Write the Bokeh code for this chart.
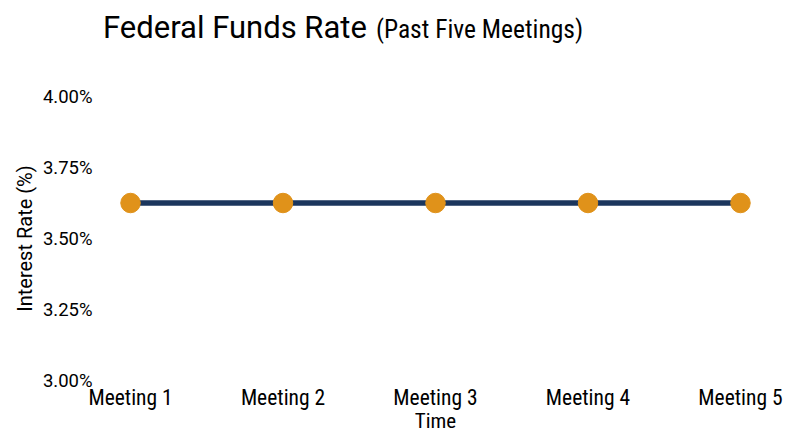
from bokeh.plotting import figure
from bokeh.models import FixedTicker, PrintfTickFormatter, Range1d, ColumnDataSource, Div
from bokeh.layouts import column
from bokeh.embed import file_html
from bokeh.resources import INLINE

meetings = ["Meeting 1", "Meeting 2", "Meeting 3", "Meeting 4", "Meeting 5"]
positions = [1, 2, 3, 4, 5]
rates = [3.625, 3.625, 3.625, 3.625, 3.625]
y_ticks = [3.0, 3.25, 3.5, 3.75, 4.0]

NAVY = "#1b365d"
ORANGE = "#e0921a"
FONT = "Roboto"
NARROW = "Roboto Condensed"

title = Div(text=(
    '<div style="padding-left:103px; padding-top:10px; white-space:nowrap; line-height:36px; color:black;">'
    '<span style="font-family:Roboto; font-size:31px;">Federal Funds Rate</span>'
    '<span style="font-family:\'Roboto Condensed\', Roboto; font-size:25.5px; margin-left:9px;">(Past Five Meetings)</span>'
    '</div>'), width=800, height=60, margin=0)

p = figure(width=800, height=387, output_backend="svg", toolbar_location=None,
           x_range=Range1d(0.79, 5.21), y_range=Range1d(3.0, 4.0),
           min_border_left=98, min_border_right=28, min_border_top=36, min_border_bottom=67,
           margin=0)
p.outline_line_color = None
p.xgrid.visible = False
p.ygrid.visible = False

src = ColumnDataSource(dict(x=positions, y=rates))
p.line("x", "y", source=src, line_color=NAVY, line_width=5.5)
p.scatter("x", "y", source=src, size=19.5, fill_color=ORANGE, line_color=ORANGE)

p.xaxis.ticker = FixedTicker(ticks=positions)
p.xaxis.major_label_overrides = {pos: m for pos, m in zip(positions, meetings)}
p.yaxis.ticker = FixedTicker(ticks=y_ticks)
p.yaxis.formatter = PrintfTickFormatter(format="%.2f%%")

for ax in (p.xaxis, p.yaxis):
    ax.axis_line_color = None
    ax.major_tick_line_color = None
    ax.minor_tick_line_color = None
    ax.major_tick_out = 0
    ax.major_tick_in = 0
    ax.minor_tick_out = 0
    ax.major_label_text_color = "black"
    ax.axis_label_text_color = "black"
    ax.axis_label_text_font_style = "normal"

p.xaxis.axis_label = "Time"
p.yaxis.axis_label = "Interest Rate (%)"
p.xaxis.major_label_text_font = NARROW
p.xaxis.major_label_text_font_size = "21.5px"
p.xaxis.axis_label_text_font = NARROW
p.xaxis.axis_label_text_font_size = "21px"
p.xaxis.major_label_standoff = 4
p.xaxis.axis_label_standoff = -4
p.yaxis.major_label_text_font = FONT
p.yaxis.major_label_text_font_size = "18.5px"
p.yaxis.axis_label_text_font = FONT
p.yaxis.axis_label_text_font_size = "20px"
p.yaxis.major_label_standoff = 6
p.yaxis.axis_label_standoff = 3

layout = column(title, p, spacing=0, margin=0)
open("out.html", "w").write(file_html(layout, INLINE))
